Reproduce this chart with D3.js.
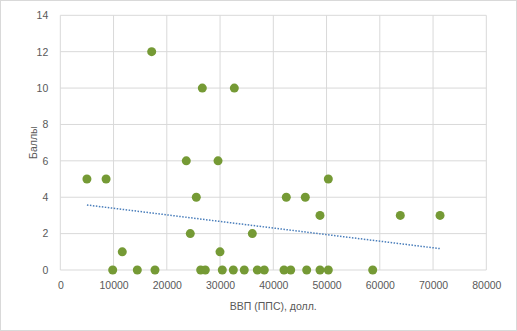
<!DOCTYPE html>
<html><head><meta charset="utf-8">
<script src="https://cdn.jsdelivr.net/npm/d3@7"></script>
<style>body{margin:0;background:#fff}svg{display:block}</style>
</head><body>
<script>
const gdp = [5000,8600,9840,11640,14460,17780,17160,23660,24410,25540,26670,26360,27230,29620,29990,30420,32680,32490,34550,36060,37000,38310,42010,43270,46270,48770,50330,58670,42440,46010,50330,48770,63850,71310];
const score = [5,5,0,1,0,0,12,6,2,4,10,0,0,6,1,0,10,0,0,2,0,0,0,0,0,0,0,0,4,4,5,3,3,3];
const xTicks = [0,10000,20000,30000,40000,50000,60000,70000,80000];
const yTicks = [0,2,4,6,8,10,12,14];
const xTitle = "ВВП (ППС), долл.";
const yTitle = "Баллы";

const W=517,H=331;
const svg=d3.select("body").append("svg").attr("width",W).attr("height",H);
svg.append("rect").attr("x",0.5).attr("y",0.5).attr("width",W-1).attr("height",H-1).attr("fill","#fff").attr("stroke","#d9d9d9");
const x=d3.scaleLinear().domain([0,80000]).range([60.3,486.3]);
const y=d3.scaleLinear().domain([0,14]).range([270,15.3]);
const font="'Liberation Sans', Arial, sans-serif";
const tc="#595959";

const g=svg.append("g");
g.selectAll(".gx").data(xTicks).join("line").attr("x1",d=>x(d)).attr("x2",d=>x(d)).attr("y1",y(0)).attr("y2",y(14)).attr("stroke","#d9d9d9").attr("stroke-width",1);
g.selectAll(".gy").data(yTicks).join("line").attr("y1",d=>y(d)).attr("y2",d=>y(d)).attr("x1",x(0)).attr("x2",x(80000)).attr("stroke","#d9d9d9").attr("stroke-width",1);

const xa=svg.append("g").attr("transform",`translate(0,${y(0)})`).call(d3.axisBottom(x).tickValues(xTicks).tickFormat(d3.format("d")).tickSize(0).tickPadding(12));
const ya=svg.append("g").attr("transform",`translate(${x(0)},0)`).call(d3.axisLeft(y).tickValues(yTicks).tickSize(0).tickPadding(12));
[xa,ya].forEach(a=>{a.select(".domain").remove();a.selectAll("text").attr("fill",tc).style("font-family",font).style("font-size","10.5px");});

svg.append("text").attr("x",(x(0)+x(80000))/2).attr("y",310).attr("text-anchor","middle").attr("fill",tc).style("font-family",font).style("font-size","10.5px").text(xTitle);
svg.append("text").attr("transform",`translate(37,${(y(0)+y(14))/2}) rotate(-90)`).attr("text-anchor","middle").attr("fill",tc).style("font-family",font).style("font-size","10.5px").text(yTitle);

// linear trend
const n=gdp.length, mx=d3.mean(gdp), my=d3.mean(score);
let sxy=0,sxx=0;for(let i=0;i<n;i++){sxy+=(gdp[i]-mx)*(score[i]-my);sxx+=(gdp[i]-mx)**2;}
const b=sxy/sxx,a0=my-b*mx;
const ext=d3.extent(gdp);
svg.append("line").attr("x1",x(ext[0])).attr("x2",x(ext[1])).attr("y1",y(a0+b*ext[0])).attr("y2",y(a0+b*ext[1])).attr("stroke","#4a7ebb").attr("stroke-width",1.5).attr("stroke-dasharray","1.5,1.5");

svg.append("g").selectAll("circle").data(gdp.map((v,i)=>[v,score[i]])).join("circle").attr("cx",d=>x(d[0])).attr("cy",d=>y(d[1])).attr("r",4.5).attr("fill","#759a35");
</script>
</body></html>
